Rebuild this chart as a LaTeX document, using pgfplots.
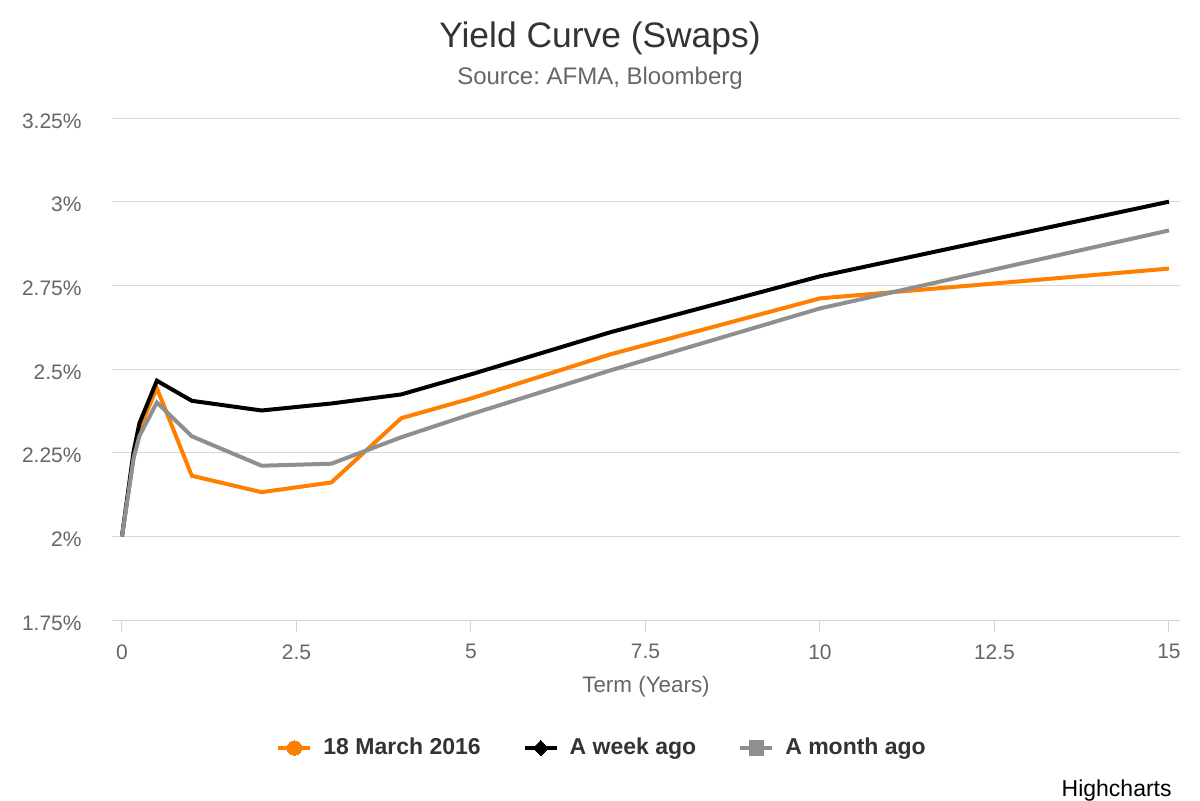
\documentclass[border=0pt]{standalone}
\usepackage{pgfplots}
\pgfplotsset{compat=1.18}
\usepackage{fontspec}
\setmainfont{Liberation Sans}
\frenchspacing
\definecolor{orangeS}{HTML}{FF8000}
\definecolor{greyS}{HTML}{8F8F8F}
\definecolor{gridc}{HTML}{D8D8D8}
\definecolor{axisc}{HTML}{CCD6EB}
\definecolor{titlec}{HTML}{333333}
\definecolor{labelc}{HTML}{666666}
\begin{document}
\begin{tikzpicture}
\useasboundingbox (0,0) rectangle (600pt,400pt);
\node[anchor=base, text=titlec, font=\fontsize{17.7}{20}\selectfont] at (300pt,376pt) {Yield Curve (Swaps)};
\node[anchor=base, text=labelc, font=\fontsize{12}{14}\selectfont] at (300pt,357.5pt) {Source: AFMA, Bloomberg};
\node[anchor=base, text=labelc, font=\fontsize{11.2}{13}\selectfont] at (323pt,54pt) {Term (Years)};
\node[anchor=base east, text=black, font=\fontsize{11.5}{13}\selectfont, inner sep=0pt] at (586pt,2pt) {Highcharts};
\begin{axis}[
  at={(56pt,90pt)}, anchor=south west,
  width=534pt, height=251pt, scale only axis,
  xmin=-0.143, xmax=15.158, ymin=1.75, ymax=3.25,
  axis x line*=bottom, axis y line*=left,
  x axis line style={draw=axisc, line width=0.5pt, -},
  y axis line style={draw=none},
  xtick={0,2.5,5,7.5,10,12.5,15},
  ytick={1.75,2,2.25,2.5,2.75,3,3.25},
  tick align=outside, major tick length=6pt,
  xtick style={draw=axisc, line width=0.5pt},
  ytick style={draw=none},
  ymajorgrids, grid style={draw=gridc, line width=0.5pt},
  /pgf/number format/assume math mode=true,
  /pgf/number format/precision=2,
  yticklabel={\pgfmathprintnumber{\tick}\%},
  ticklabel style={text=labelc, font=\fontsize{10.5}{12}\selectfont},
  yticklabel style={anchor=east, inner sep=0pt, xshift=-9pt, yshift=-1.5pt},
  xticklabel style={anchor=north, inner sep=0pt, yshift=-6pt},
  legend style={at={(0.458,-0.255)}, anchor=center, draw=none, fill=none,
    legend columns=3, font=\bfseries\fontsize{11.5}{14}\selectfont, text=titlec,
    nodes={inner sep=0pt},
    /tikz/every odd column/.append style={column sep=5.5pt},
    /tikz/every even column/.append style={column sep=21pt}},
  legend image code/.code={\draw[#1,mark=none] (0pt,0pt) -- (16pt,0pt); \draw[#1] plot coordinates {(8pt,0pt)};},
]
\addplot[orangeS, line width=2pt, forget plot] coordinates {
(0,2.00) (0.167,2.24) (0.25,2.32) (0.5,2.443) (1,2.181) (2,2.132) (3,2.161) (4,2.353) (5,2.412) (7,2.544) (10,2.711) (15,2.80)};
\addplot[black, line width=2pt, forget plot] coordinates {
(0,2.00) (0.167,2.254) (0.25,2.338) (0.5,2.465) (1,2.405) (2,2.376) (3,2.397) (4,2.424) (5,2.484) (7,2.61) (10,2.777) (15,3.00)};
\addplot[greyS, line width=2pt, forget plot] coordinates {
(0,2.00) (0.167,2.234) (0.25,2.30) (0.5,2.40) (1,2.299) (2,2.211) (3,2.217) (4,2.296) (5,2.365) (7,2.496) (10,2.681) (15,2.914)};
\addlegendimage{orangeS, line width=2pt, mark=*, mark size=3.6pt, mark options={fill=orangeS, draw=orangeS, line width=0pt}}
\addlegendentry{18 March 2016}
\addlegendimage{black, line width=2pt, mark=square*, mark size=2.7pt, mark options={rotate=45, fill=black, line width=0pt}}
\addlegendentry{A week ago}
\addlegendimage{greyS, line width=2pt, mark=square*, mark size=3.6pt, mark options={fill=greyS, draw=greyS, line width=0pt}}
\addlegendentry{A month ago}
\end{axis}
\end{tikzpicture}
\end{document}
